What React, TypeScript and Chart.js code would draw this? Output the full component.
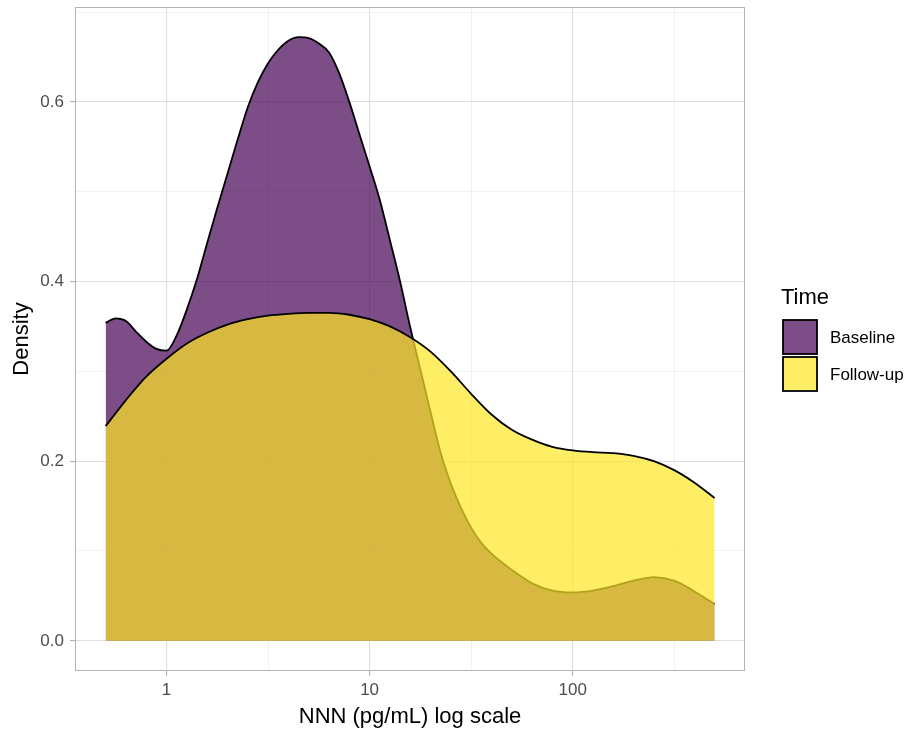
import { useEffect, useRef } from "react";
import { Chart, registerables } from "chart.js";

Chart.register(...registerables);

// ---- data ----
const seriesNames = ["Baseline", "Follow-up"];
const legendTitle = "Time";
const xTitle = "NNN (pg/mL) log scale";
const yTitle = "Density";

const baselineX = [0.501, 0.562, 0.631, 0.708, 0.794, 0.891, 1, 1.122, 1.259, 1.413, 1.585, 1.778, 1.995, 2.239, 2.512, 2.818, 3.162, 3.548, 3.981, 4.467, 5.012, 5.623, 6.31, 7.079, 7.943, 8.913, 10, 11.22, 12.59, 14.13, 15.85, 17.78, 19.95, 22.39, 25.12, 28.18, 31.62, 35.48, 39.81, 50.12, 63.1, 79.43, 100, 125.9, 158.5, 199.5, 251.2, 316.2, 398.1, 500];
const baselineY = [0.354, 0.359, 0.356, 0.344, 0.333, 0.325, 0.323, 0.34, 0.369, 0.403, 0.443, 0.482, 0.52, 0.558, 0.594, 0.622, 0.643, 0.658, 0.668, 0.672, 0.671, 0.665, 0.655, 0.632, 0.6, 0.564, 0.528, 0.491, 0.446, 0.4, 0.349, 0.302, 0.255, 0.209, 0.175, 0.148, 0.126, 0.109, 0.097, 0.079, 0.064, 0.056, 0.054, 0.056, 0.061, 0.067, 0.071, 0.067, 0.055, 0.041];

const followX = [0.501, 0.631, 0.794, 1, 1.259, 1.585, 1.995, 2.512, 3.162, 3.981, 5.012, 6.31, 7.943, 10, 12.59, 15.85, 19.95, 25.12, 31.62, 39.81, 50.12, 63.1, 79.43, 100, 125.9, 158.5, 199.5, 251.2, 316.2, 398.1, 500];
const followY = [0.239, 0.268, 0.294, 0.314, 0.331, 0.343, 0.352, 0.358, 0.362, 0.364, 0.365, 0.365, 0.363, 0.358, 0.35, 0.338, 0.322, 0.3, 0.275, 0.252, 0.235, 0.224, 0.216, 0.212, 0.21, 0.209, 0.206, 0.2, 0.19, 0.176, 0.159];

const xMajorTicks = [1, 10, 100];
const xMinorTicks = [3.1623, 31.623, 316.23];
const yMajorTicks = [0, 0.2, 0.4, 0.6];
const yMinorTicks = [0.1, 0.3, 0.5, 0.7];

const FONT = '"Liberation Sans", Arial, Helvetica, sans-serif';
const fillColors = ["rgba(68,1,84,0.7)", "rgba(253,231,37,0.7)"];

const isMajor = (list: number[], v: number) => list.some((m) => Math.abs(m - v) < 1e-6);

const panelPlugin = {
  id: "panelAndLegend",
  afterDraw(chart: any) {
    const { ctx, chartArea } = chart;
    ctx.save();
    // panel border
    ctx.strokeStyle = "#b3b3b3";
    ctx.lineWidth = 1;
    ctx.strokeRect(chartArea.left + 0.5, chartArea.top + 0.5, chartArea.right - chartArea.left - 1, chartArea.bottom - chartArea.top - 1);
    // legend
    ctx.fillStyle = "#000";
    ctx.textBaseline = "middle";
    ctx.textAlign = "left";
    ctx.font = `22px ${FONT}`;
    ctx.fillText(legendTitle, 781, 298);
    seriesNames.forEach((name, i) => {
      const y0 = 320 + i * 37;
      ctx.fillStyle = "#fff";
      ctx.fillRect(783, y0, 34, 34);
      ctx.fillStyle = fillColors[i];
      ctx.fillRect(783, y0, 34, 34);
      ctx.strokeStyle = "#000";
      ctx.lineWidth = 1.8;
      ctx.strokeRect(783, y0, 34, 34);
      ctx.fillStyle = "#000";
      ctx.font = `17px ${FONT}`;
      ctx.fillText(name, 830, y0 + 18);
    });
    ctx.restore();
  },
};

export default function App() {
  const ref = useRef<HTMLCanvasElement | null>(null);
  useEffect(() => {
    if (!ref.current) return;
    const chart = new Chart(ref.current, {
      type: "line",
      data: {
        datasets: [
          {
            label: seriesNames[0],
            data: baselineX.map((x, i) => ({ x, y: baselineY[i] })),
            borderColor: "#000",
            borderWidth: 1.8,
            backgroundColor: fillColors[0],
            fill: "origin",
            pointRadius: 0,
            cubicInterpolationMode: "monotone",
            order: 2,
          },
          {
            label: seriesNames[1],
            data: followX.map((x, i) => ({ x, y: followY[i] })),
            borderColor: "#000",
            borderWidth: 1.8,
            backgroundColor: fillColors[1],
            fill: "origin",
            pointRadius: 0,
            cubicInterpolationMode: "monotone",
            order: 1,
          },
        ],
      },
      options: {
        responsive: false,
        animation: false,
        layout: { padding: { left: 0, right: 174, top: 7, bottom: 0 } },
        plugins: { legend: { display: false }, tooltip: { enabled: false } },
        scales: {
          x: {
            type: "logarithmic",
            min: 0.354,
            max: 706,
            afterFit: (s: any) => {
              s.height = 64;
              s.paddingLeft = 0;
              s.paddingRight = 0;
            },
            afterBuildTicks: (s: any) => {
              s.ticks = [...xMajorTicks, ...xMinorTicks].sort((a, b) => a - b).map((v) => ({ value: v, major: isMajor(xMajorTicks, v) }));
            },
            ticks: {
              autoSkip: false,
              maxRotation: 0,
              padding: 4,
              color: "#4d4d4d",
              font: { family: FONT, size: 17 },
              callback: (v: any) => (isMajor(xMajorTicks, Number(v)) ? String(v) : ""),
            },
            grid: {
              color: (c: any) => (c.tick && isMajor(xMajorTicks, c.tick.value) ? "#dedede" : "#ececec"),
              lineWidth: (c: any) => (c.tick && isMajor(xMajorTicks, c.tick.value) ? 1.1 : 0.7),
              tickColor: (c: any) => (c.tick && isMajor(xMajorTicks, c.tick.value) ? "#b3b3b3" : "rgba(0,0,0,0)"),
              tickLength: 5,
              drawTicks: true,
            },
            border: { display: false },
            title: {
              display: true,
              text: xTitle,
              color: "#000",
              font: { family: FONT, size: 22 },
              padding: { top: 0, bottom: 5 },
            },
          },
          y: {
            type: "linear",
            min: -0.0336,
            max: 0.7056,
            afterFit: (s: any) => {
              s.width = 75;
              s.paddingTop = 0;
              s.paddingBottom = 0;
            },
            afterBuildTicks: (s: any) => {
              s.ticks = [...yMajorTicks, ...yMinorTicks].sort((a, b) => a - b).map((v) => ({ value: v, major: isMajor(yMajorTicks, v) }));
            },
            ticks: {
              autoSkip: false,
              padding: 6,
              color: "#4d4d4d",
              font: { family: FONT, size: 17 },
              callback: (v: any) => (isMajor(yMajorTicks, Number(v)) ? Number(v).toFixed(1) : ""),
            },
            grid: {
              color: (c: any) => (c.tick && isMajor(yMajorTicks, c.tick.value) ? "#dedede" : "#ececec"),
              lineWidth: (c: any) => (c.tick && isMajor(yMajorTicks, c.tick.value) ? 1.1 : 0.7),
              tickColor: (c: any) => (c.tick && isMajor(yMajorTicks, c.tick.value) ? "#b3b3b3" : "rgba(0,0,0,0)"),
              tickLength: 5,
              drawTicks: true,
            },
            border: { display: false },
            title: {
              display: true,
              text: yTitle,
              color: "#000",
              font: { family: FONT, size: 22 },
              padding: { top: 9, bottom: 0 },
            },
          },
        },
      },
      plugins: [panelPlugin],
    } as any);
    return () => chart.destroy();
  }, []);
  return (
    <div style={{ position: "absolute", left: 0, top: 0, width: 919, height: 735, background: "#fff" }}>
      <canvas ref={ref} width={919} height={735} style={{ display: "block" }} />
    </div>
  );
}
